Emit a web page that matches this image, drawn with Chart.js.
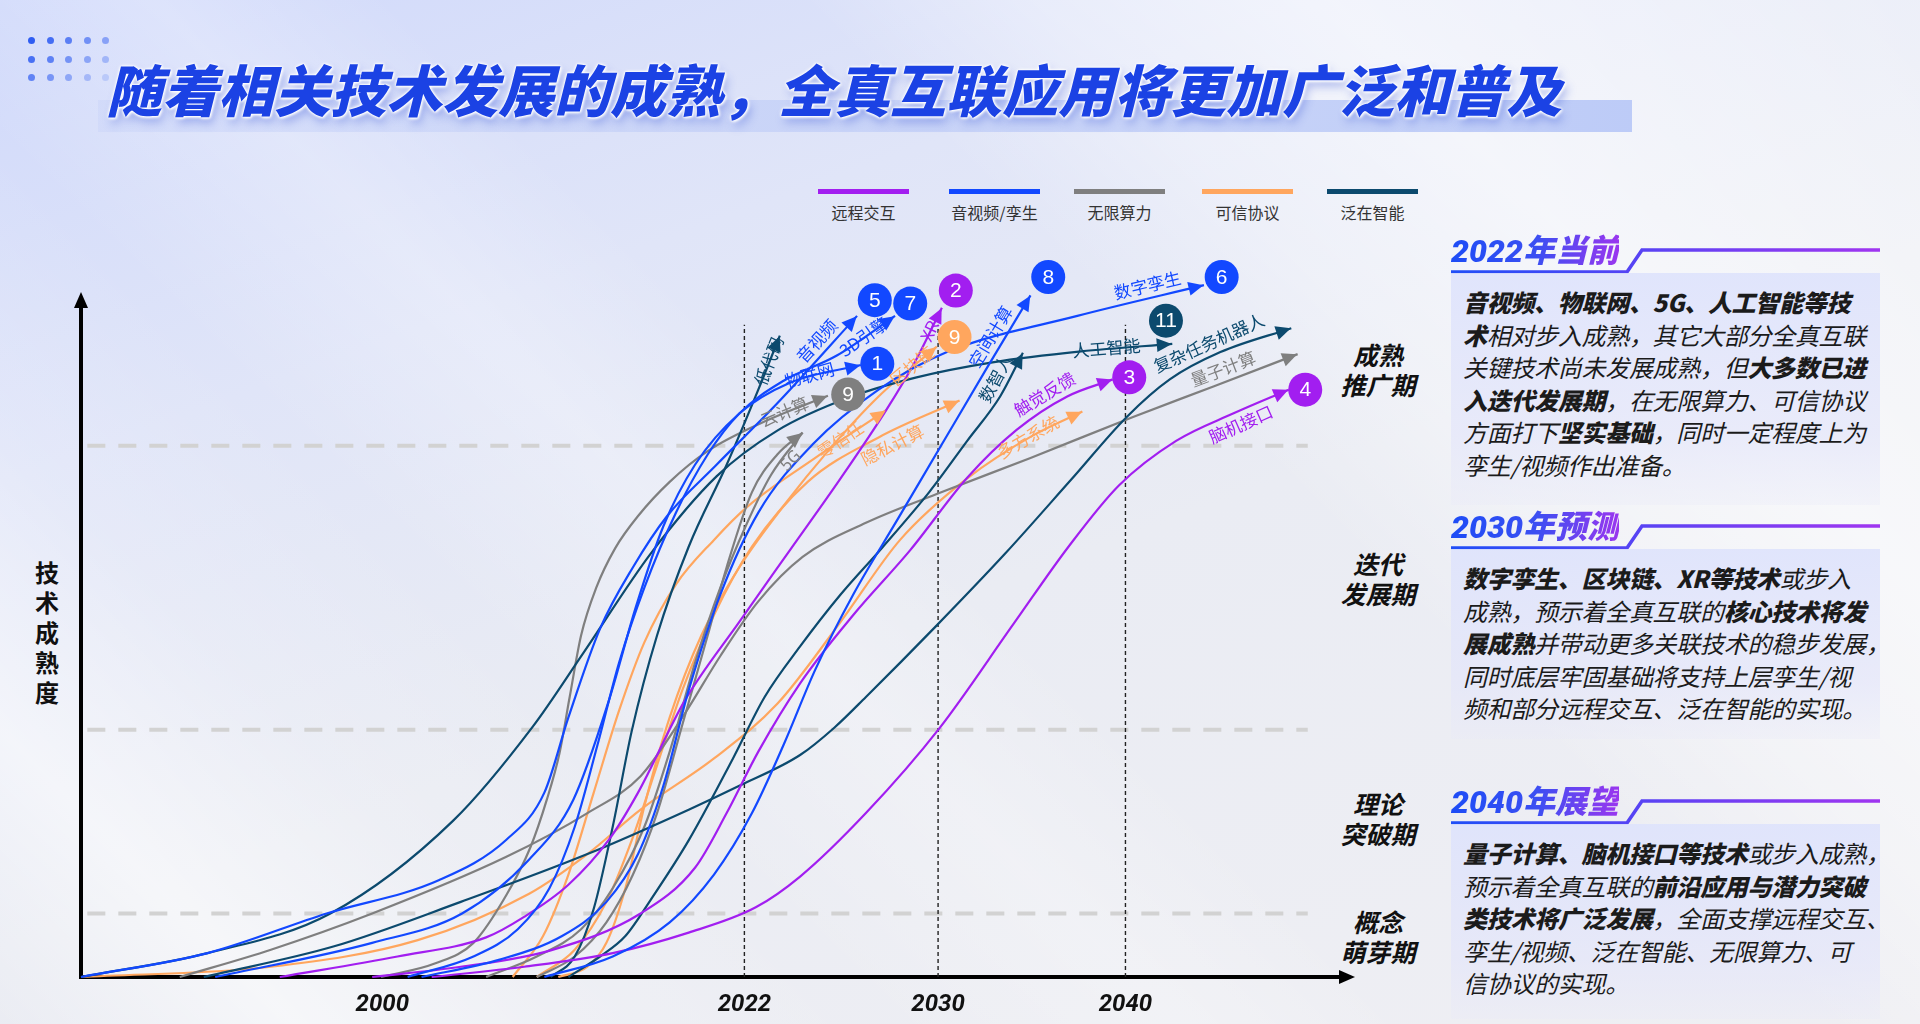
<!DOCTYPE html>
<html>
<head>
<meta charset="utf-8">
<title>全真互联技术成熟度</title>
<script src="https://cdn.jsdelivr.net/npm/chart.js@4.4.1/dist/chart.umd.min.js"></script>
<style>
  html, body { margin: 0; padding: 0; }
  body {
    width: 1920px; height: 1024px; overflow: hidden; position: relative;
    font-family: 'Noto Sans CJK SC', 'Noto Sans', sans-serif;
    background: linear-gradient(160deg, #d0d9fb 0%, #e0e5f8 28%, #eaecf3 55%, #efeff3 100%);
  }
  .bands {
    position: absolute; left: 0; top: 0; width: 1920px; height: 1024px;
    background: linear-gradient(45deg,
      rgba(255,255,255,0) 0%, rgba(255,255,255,0.55) 10%, rgba(255,255,255,0.15) 20%,
      rgba(255,255,255,0) 30%, rgba(255,255,255,0.25) 40%, rgba(255,255,255,0) 48%,
      rgba(255,255,255,0) 62%, rgba(255,255,255,0.35) 70%, rgba(255,255,255,0.6) 80%, rgba(255,255,255,0.3) 100%);
  }
  .dot { position: absolute; width: 7px; height: 7px; border-radius: 50%; background: #2f5df2; }
  .title-bar {
    position: absolute; left: 98px; top: 100px; width: 1534px; height: 32px;
    background: linear-gradient(90deg, rgba(196,208,248,0.35), rgba(186,201,247,0.95));
  }
  .title {
    position: absolute; left: 106px; top: 58px; white-space: nowrap;
    font-size: 56px; line-height: 60px; font-weight: 900; font-style: italic;
    color: #1b42e4;
    text-shadow: 0 0 2px #fff, 0 0 3px #fff, 0 0 4px #fff, 1px 1px 3px #fff, 3px 6px 10px rgba(40,70,210,0.35);
  }
  .legend-item { position: absolute; top: 189px; width: 91px; }
  .legend-item .sw { height: 5px; width: 91px; }
  .legend-item .tx { margin-top: 8px; text-align: center; font-size: 16px; line-height: 20px; color: #333; }
  .ytitle {
    position: absolute; left: 33px; top: 557px; width: 28px; text-align: center;
    font-size: 24px; line-height: 30px; font-weight: bold; color: #111;
  }
  .stage {
    position: absolute; left: 1318px; width: 120px; text-align: center;
    font-size: 25px; line-height: 30px; font-weight: bold; font-style: italic; color: #111;
  }
  .ph {
    position: absolute; left: 1451px; font-family: Roboto, 'Noto Sans CJK SC', sans-serif;
    font-size: 32px; line-height: 36px; font-weight: 900; font-style: italic;
    background: linear-gradient(90deg, #1d4cf6 0%, #3a4ff2 50%, #9a36ef 100%);
    -webkit-background-clip: text; background-clip: text; color: transparent;
  }
  .pline { position: absolute; left: 1451px; }
  .pbody {
    position: absolute; left: 1451px; width: 429px; box-sizing: border-box;
    padding: 13px 0 0 12px;
    background: linear-gradient(180deg, rgba(222,227,252,0.9) 0%, rgba(228,230,250,0.7) 70%, rgba(232,233,248,0.3) 100%);
    font-size: 24px; line-height: 32.5px; font-style: italic; color: #1b1b1b;
    white-space: nowrap; letter-spacing: -0.3px;
  }
  .pbody b { font-weight: 900; }
  #chart { position: absolute; left: 0; top: 0; }
</style>
</head>
<body>
<div class="bands"></div>
<div id="dots"></div>
<div class="title-bar"></div>
<div class="title">随着相关技术发展的成熟，全真互联应用将更加广泛和普及</div>
<div id="legend"></div>
<div class="ytitle">技<br>术<br>成<br>熟<br>度</div>
<div id="stages"></div>

<div class="ph" style="top:233px">2022年当前</div>
<svg class="pline" style="top:247px" width="429" height="28"><defs><linearGradient id="g1" x1="0" x2="1"><stop offset="0" stop-color="#1f4ef7"/><stop offset="1" stop-color="#a035f0"/></linearGradient></defs><polyline points="0,25 176,25 191,3 429,3" fill="none" stroke="url(#g1)" stroke-width="3.5"/></svg>
<div class="pbody" style="top:273px;height:232px">
<b>音视频、物联网、5G、人工智能等技</b><br>
<b>术</b>相对步入成熟，其它大部分全真互联<br>
关键技术尚未发展成熟，但<b>大多数已进</b><br>
<b>入迭代发展期</b>，在无限算力、可信协议<br>
方面打下<b>坚实基础</b>，同时一定程度上为<br>
孪生/视频作出准备。
</div>

<div class="ph" style="top:509px">2030年预测</div>
<svg class="pline" style="top:523px" width="429" height="28"><polyline points="0,25 176,25 191,3 429,3" fill="none" stroke="url(#g1)" stroke-width="3.5"/></svg>
<div class="pbody" style="top:549px;height:190px">
<b>数字孪生、区块链、XR等技术</b>或步入<br>
成熟，预示着全真互联的<b>核心技术将发</b><br>
<b>展成熟</b>并带动更多关联技术的稳步发展，<br>
同时底层牢固基础将支持上层孪生/视<br>
频和部分远程交互、泛在智能的实现。
</div>

<div class="ph" style="top:784px">2040年展望</div>
<svg class="pline" style="top:798px" width="429" height="28"><polyline points="0,25 176,25 191,3 429,3" fill="none" stroke="url(#g1)" stroke-width="3.5"/></svg>
<div class="pbody" style="top:824px;height:195px">
<b>量子计算、脑机接口等技术</b>或步入成熟，<br>
预示着全真互联的<b>前沿应用与潜力突破</b><br>
<b>类技术将广泛发展</b>，全面支撑远程交互、<br>
孪生/视频、泛在智能、无限算力、可<br>
信协议的实现。
</div>

<canvas id="chart" width="1920" height="1024"></canvas>

<script>
// categories (legend order)
const groups = ['远程交互', '音视频/孪生', '无限算力', '可信协议', '泛在智能'];
const groupColors = ['#a21ef0', '#1248ff', '#7f7f7f', '#ffa65e', '#0c4a6e'];

// x axis: timeline position 0-100, tick labels placed at these positions
const xTickPos = [23.8, 52.4, 67.7, 82.5];
const xTickLabels = ['2000', '2022', '2030', '2040'];

// maturity stages (y 0-100) and their dashed boundaries
const stageNames = [['成熟', '推广期'], ['迭代', '发展期'], ['理论', '突破期'], ['概念', '萌芽期']];
const stageLevels = [77.8, 36.2, 9.3];

// curves: [timeline, maturity]
const curveAV = [[0,0],[10,3.5],[19.4,9.3],[28.3,14.2],[33.6,20.1],[36.6,27],[38.5,38],[41,51],[43.6,60],[46.3,67.5],[50.2,75],[55,84],[61.3,96.8]];
const curveIoT = [[10.6,0],[23,5],[30.1,9.3],[35.4,17.2],[38.9,26],[41.7,40.5],[43.8,54],[46,66],[48.5,75],[52,82.5],[56,87],[61.6,89.6]];
const curve3D = [[25.8,0],[31,3],[34.5,7],[37,13],[39,22],[40.8,34],[42.5,46],[44.5,57],[47,68],[49.5,76.5],[52,82.5],[55.5,87.3],[59.7,91],[64.3,96.8]];
const curveSpace = [[36.6,0],[42,3],[46.5,8],[50,15],[53,24],[55.5,34],[58,45],[61,56],[64.5,67],[68,78],[71.5,89],[75,99.8]];
const curveTwin = [[26.9,0],[33,2.5],[38,6],[41.5,11],[44,18],[46,28],[48,42],[50.5,56],[53.5,68],[57.8,78],[63,86],[68.4,91.5],[78.7,96.8],[88.7,101.3]];
const curveXR = [[15.7,0],[25,3],[32,5.8],[35,8.8],[38.5,13.5],[41.7,20.1],[44,27],[47.7,40.5],[52,52],[56,62.5],[60,73],[63.6,83],[66,90.5],[68,98]];
const curveTouch = [[23,0],[30,1.5],[37.1,3.9],[44.2,9.3],[48.5,16],[51,24],[53.5,33],[56.8,43],[61,53],[65.5,62.5],[70,73.1],[73.9,80.1],[77.9,85],[81.5,87.5]];
const curveBCI = [[27.7,0],[35,1.5],[42,3.5],[48,6.5],[53.3,10.2],[56.8,14.7],[62,24],[67.8,36.4],[73.7,51.8],[78,63],[82,72],[86.5,78.5],[91,82.5],[95.4,86]];
const curveAI = [[0,0],[10,3.5],[19.7,9.3],[29.4,22.9],[35.7,36.7],[39.7,47.5],[45,62],[50.2,73.3],[55,80],[60.6,84.8],[66,87.8],[72,90],[79,91.6],[86.2,92.7]];
const curveLowCode = [[37.1,0],[39,3],[40.5,10],[42,22],[43.5,36],[45.5,50],[48,63],[51,75],[53.5,86],[55.2,93.9]];
const curveDH = [[38.5,0],[41,3],[43,6],[45,11.3],[48,20],[51.5,32],[54,41],[56.8,48.4],[60,56],[63.3,62.9],[67,71],[70,78.5],[72.6,85],[74.4,91.4]];
const curveRobot = [[9.7,0],[20,4.5],[30,11],[40,18],[48,24.5],[52,28],[56.8,32.5],[59.5,36.5],[62,41],[67.5,51.3],[73,62],[78.2,72.8],[82.6,82],[86,87.5],[90,91.5],[95.6,95]];
const curveCloud = [[23.7,0],[28,2],[31,5],[33.6,12],[35.5,19],[36.8,26],[37.8,32.8],[38.6,41],[39.5,50],[40.7,57],[42.2,62.8],[44,67.5],[46.5,72.5],[49.5,77],[54.2,81.5],[59,85.1]];
const curve5G = [[36,0],[39,3],[41.5,8],[43.6,15],[45.5,24],[47.6,37.6],[49.5,50],[51,60],[53,71],[55,76.5],[57,79.7]];
const curveQuantum = [[7.8,0],[15,4],[23,9.3],[33.6,17.6],[40,24],[44.2,29.4],[47.5,38],[50.5,47],[53.5,55],[57,61.5],[62,66.5],[68,71],[75,76],[83.1,82],[89.5,86.5],[96.1,91.2]];
const curveGray2 = [[32,0],[36,3],[39.5,7],[42,13],[44.5,22],[46.5,33],[48.5,46],[50.5,57],[52.5,66],[54.5,73.5],[57,79.7]];
const curveZT = [[34.1,0],[36.5,6],[38.5,15],[40.5,27],[42.5,39],[44.5,49],[47,57.5],[50,64],[52.6,68.8],[58,76],[63.6,83]];
const curveBC = [[37.7,0],[40,1.5],[41.5,5],[43,13],[44.5,25],[46.5,38],[49,50],[52,60],[55.5,69],[59,77],[63,85],[67.6,92.3]];
const curvePC = [[36,0],[39,4],[41.5,11],[43.5,20],[45.5,31],[47.5,42],[50,53],[53,63],[57.4,72.5],[63,79],[69.4,84.4]];
const curveMP = [[0,0],[15,1.5],[26.6,5.4],[35.4,12.2],[40,18],[44.2,24.5],[50,32],[55,40],[60,52],[64.7,64],[70,73],[75.2,79.3],[79.1,82.8]];

const techNames = ['音视频', '物联网', '3D引擎', '空间计算', '数字孪生', 'XR', '触觉反馈', '脑机接口',
  '人工智能', '低代码', '数智人', '复杂任务机器人', '云计算', '5G', '量子计算', '', '零信任', '区块链', '隐私计算', '多方系统'];
const techGroup = [1, 1, 1, 1, 1, 0, 0, 0, 4, 4, 4, 4, 2, 2, 2, 2, 3, 3, 3, 3];
const techCurves = [curveAV, curveIoT, curve3D, curveSpace, curveTwin, curveXR, curveTouch, curveBCI,
  curveAI, curveLowCode, curveDH, curveRobot, curveCloud, curve5G, curveQuantum, curveGray2, curveZT, curveBC, curvePC, curveMP];
// label placement: above (1), on (0) or below (-1) its curve, and gap before the arrow tip
const labelSide = [1, 0, 0, 1, 1, 0, 1, -1, 0, 0, 1, 1, 0, -1, 1, 0, 0, 0, -1, 0];
const labelGap = [20, 27, 10, 22, 21, 16, 33, 24, 32, 2, 10, 22, 21, 18, 41, 0, 29, 6, 46, 26];

// numbered markers
const markerNum = ['5', '7', '1', '2', '9', '8', '6', '11', '3', '4', '9'];
const markerGroup = [1, 1, 1, 0, 3, 1, 1, 4, 0, 0, 2];
const markerX = [62.7, 65.5, 62.9, 69.1, 69.0, 76.4, 90.1, 85.7, 82.8, 96.7, 60.6];
const markerY = [99.1, 98.6, 89.8, 100.5, 93.7, 102.5, 102.5, 96.1, 87.8, 86.0, 85.3];

// --- page decoration ---
const dotsEl = document.getElementById('dots');
for (let r = 0; r < 3; r++) {
  for (let c = 0; c < 5; c++) {
    const d = document.createElement('div');
    d.className = 'dot';
    d.style.left = (28 + c * 18.5) + 'px';
    d.style.top = (37 + r * 18.5) + 'px';
    d.style.opacity = (1 - c * 0.13 - r * 0.15).toFixed(2);
    dotsEl.appendChild(d);
  }
}

const legendLefts = [818, 949, 1074, 1202, 1327];
const legendEl = document.getElementById('legend');
groups.forEach((g, i) => {
  const item = document.createElement('div');
  item.className = 'legend-item';
  item.style.left = legendLefts[i] + 'px';
  item.innerHTML = `<div class="sw" style="background:${groupColors[i]}"></div><div class="tx">${g}</div>`;
  legendEl.appendChild(item);
});

const stageTops = [339, 548, 788, 906];
const stagesEl = document.getElementById('stages');
stageNames.forEach((s, i) => {
  const d = document.createElement('div');
  d.className = 'stage';
  d.style.top = stageTops[i] + 'px';
  d.innerHTML = s.join('<br>');
  stagesEl.appendChild(d);
});

// --- helpers for curve geometry ---
function samplePath(meta) {
  const pts = meta.data;
  const out = [];
  for (let i = 0; i < pts.length - 1; i++) {
    const a = pts[i], b = pts[i + 1];
    const c1x = a.cp2x ?? a.x, c1y = a.cp2y ?? a.y;
    const c2x = b.cp1x ?? b.x, c2y = b.cp1y ?? b.y;
    for (let s = 0; s < 24; s++) {
      const t = s / 24, u = 1 - t;
      out.push([
        u * u * u * a.x + 3 * u * u * t * c1x + 3 * u * t * t * c2x + t * t * t * b.x,
        u * u * u * a.y + 3 * u * u * t * c1y + 3 * u * t * t * c2y + t * t * t * b.y
      ]);
    }
  }
  const last = pts[pts.length - 1];
  out.push([last.x, last.y]);
  return out;
}

function pointBack(path, dist) {
  let acc = 0;
  for (let i = path.length - 1; i > 0; i--) {
    const [x1, y1] = path[i], [x0, y0] = path[i - 1];
    const seg = Math.hypot(x1 - x0, y1 - y0);
    if (acc + seg >= dist) {
      const f = (dist - acc) / seg;
      return { x: x1 + (x0 - x1) * f, y: y1 + (y0 - y1) * f, angle: Math.atan2(y1 - y0, x1 - x0) };
    }
    acc += seg;
  }
  const [x0, y0] = path[0], [x1, y1] = path[1];
  return { x: x0, y: y0, angle: Math.atan2(y1 - y0, x1 - x0) };
}

function arrowHead(ctx, x, y, angle, len, half, color) {
  ctx.save();
  ctx.translate(x, y);
  ctx.rotate(angle);
  ctx.beginPath();
  ctx.moveTo(0, 0);
  ctx.lineTo(-len, -half);
  ctx.lineTo(-len, half);
  ctx.closePath();
  ctx.fillStyle = color;
  ctx.fill();
  ctx.restore();
}

// dashed stage lines, dotted year lines and the maturity axis
const guidePlugin = {
  id: 'guides',
  beforeDatasetsDraw(chart) {
    const { ctx, scales: { x, y } } = chart;
    ctx.save();
    ctx.strokeStyle = '#d2d2d2';
    ctx.lineWidth = 4;
    ctx.setLineDash([18, 13]);
    stageLevels.forEach(v => {
      const py = y.getPixelForValue(v);
      ctx.beginPath();
      ctx.moveTo(x.getPixelForValue(0.5), py);
      ctx.lineTo(x.getPixelForValue(96.9), py);
      ctx.stroke();
    });
    ctx.strokeStyle = '#222';
    ctx.lineWidth = 1.4;
    ctx.setLineDash([4, 3]);
    xTickPos.slice(1).forEach(v => {
      const px = x.getPixelForValue(v);
      ctx.beginPath();
      ctx.moveTo(px, y.getPixelForValue(0));
      ctx.lineTo(px, y.getPixelForValue(95.5));
      ctx.stroke();
    });
    // y axis line up to 100
    ctx.setLineDash([]);
    ctx.strokeStyle = '#000';
    ctx.lineWidth = 4;
    ctx.beginPath();
    ctx.moveTo(x.getPixelForValue(0), y.getPixelForValue(0) + 2);
    ctx.lineTo(x.getPixelForValue(0), y.getPixelForValue(100) + 8);
    ctx.stroke();
    ctx.restore();
  }
};

// arrows, labels and marker numbers
const annotatePlugin = {
  id: 'annotate',
  afterDatasetsDraw(chart) {
    const { ctx, chartArea, scales: { x, y } } = chart;
    chart.data.datasets.forEach((ds, di) => {
      if (ds.techIndex === undefined) return;
      const ti = ds.techIndex;
      const name = techNames[ti];
      if (!name) return;
      const color = groupColors[techGroup[ti]];
      const path = samplePath(chart.getDatasetMeta(di));
      const tip = pointBack(path, 0.5);
      const endDir = pointBack(path, 6);
      arrowHead(ctx, tip.x, tip.y, Math.atan2(tip.y - endDir.y, tip.x - endDir.x), 15, 7, color);

      ctx.save();
      ctx.font = '17px "Noto Sans CJK SC", sans-serif';
      const w = ctx.measureText(name).width;
      const p = pointBack(path, w / 2 + labelGap[ti]);
      ctx.translate(p.x, p.y);
      ctx.rotate(p.angle);
      ctx.fillStyle = color;
      ctx.textAlign = 'center';
      ctx.textBaseline = 'middle';
      ctx.fillText(name, 0, labelSide[ti] === 1 ? -13 : (labelSide[ti] === -1 ? 13 : -1));
      ctx.restore();
    });

    const markerMeta = chart.getDatasetMeta(0);
    ctx.save();
    ctx.fillStyle = '#fff';
    ctx.font = '21px "Liberation Sans", Arial, sans-serif';
    ctx.textAlign = 'center';
    ctx.textBaseline = 'middle';
    markerMeta.data.forEach((pt, i) => ctx.fillText(markerNum[i], pt.x, pt.y + 1));
    ctx.restore();

    // axis arrow heads
    arrowHead(ctx, x.getPixelForValue(0), y.getPixelForValue(100) - 2, -Math.PI / 2, 16, 7, '#000');
    arrowHead(ctx, chartArea.right + 8, chartArea.bottom, 0, 16, 7, '#000');
  }
};

const datasets = [{
  label: 'markers',
  data: markerX.map((v, i) => ({ x: v, y: markerY[i] })),
  pointRadius: 17,
  pointBackgroundColor: markerGroup.map(g => groupColors[g]),
  pointBorderWidth: 0,
  pointBorderColor: 'rgba(0,0,0,0)',
  showLine: false,
  clip: false,
  order: 0
}];
techCurves.forEach((c, i) => {
  datasets.push({
    label: techNames[i] || groups[techGroup[i]],
    techIndex: i,
    data: c.map(p => ({ x: p[0], y: p[1] })),
    showLine: true,
    borderColor: groupColors[techGroup[i]],
    borderWidth: 2.2,
    pointRadius: 0,
    cubicInterpolationMode: 'monotone',
    capBezierPoints: false,
    clip: false,
    order: 1
  });
});

new Chart(document.getElementById('chart'), {
  type: 'scatter',
  data: { datasets },
  options: {
    responsive: false,
    animation: false,
    devicePixelRatio: 1,
    events: [],
    layout: { padding: { left: 81, right: 573, top: 266.7, bottom: 0 } },
    plugins: { legend: { display: false }, tooltip: { enabled: false } },
    scales: {
      x: {
        type: 'linear', min: 0, max: 100,
        afterBuildTicks: scale => { scale.ticks = xTickPos.map(v => ({ value: v })); },
        afterFit: scale => { scale.height = 47; },
        ticks: {
          callback: (v, i) => xTickLabels[i],
          font: { family: 'Roboto', size: 24, weight: 'bold', style: 'italic', lineHeight: 0.7 },
          color: '#111', padding: 20, maxRotation: 0, autoSkip: false
        },
        grid: { display: false, drawTicks: false },
        border: { color: '#000', width: 4 }
      },
      y: {
        type: 'linear', min: 0, max: 104,
        ticks: { display: false },
        grid: { display: false, drawTicks: false },
        border: { display: false }
      }
    }
  },
  plugins: [guidePlugin, annotatePlugin]
});
</script>
</body>
</html>
